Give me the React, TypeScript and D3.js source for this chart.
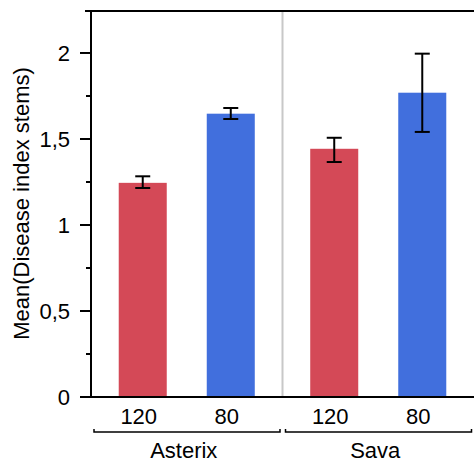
import React from "react";
import * as d3 from "d3";

const groups = ["Asterix", "Sava"];
const levels = ["120", "80"];
const means = [
  [1.245, 1.647],
  [1.443, 1.769],
];
const lowers = [
  [1.215, 1.616],
  [1.366, 1.541],
];
const uppers = [
  [1.283, 1.68],
  [1.507, 1.996],
];
const yTicks = [0, 0.5, 1, 1.5, 2];
const yMinorTicks = [0.25, 0.75, 1.25, 1.75];
const levelColors = ["#d44957", "#416fdd"];

const W = 474;
const H = 463;
const left = 91;
const right = 474;
const top = 11;
const bottom = 397;
const font = "Liberation Sans, Arial, sans-serif";
const fs = 22;

export default function App() {
  const y = d3.scaleLinear().domain([0, 2.244]).range([bottom, top]);
  const gx = d3.scaleBand<string>().domain(groups).range([left, right]);
  const ix = d3
    .scaleBand<string>()
    .domain(levels)
    .range([0, gx.bandwidth()])
    .paddingInner(0.4545)
    .paddingOuter(0.315);
  const fmt = (v: number) => String(v).replace(".", ",");

  return (
    <svg
      width={W}
      height={H}
      style={{ position: "absolute", left: 0, top: 0 }}
      fontFamily={font}
    >
      <rect width={W} height={H} fill="#fff" />
      {/* group divider */}
      <line
        x1={gx("Sava")!}
        x2={gx("Sava")!}
        y1={top}
        y2={bottom}
        stroke="#c8c8c8"
        strokeWidth={2}
      />
      {/* bars */}
      {groups.map((g, gi) =>
        levels.map((l, li) => {
          const x0 = gx(g)! + ix(l)!;
          return (
            <rect
              key={g + l}
              x={x0}
              width={ix.bandwidth()}
              y={y(means[gi][li])}
              height={y(0) - y(means[gi][li])}
              fill={levelColors[li]}
            />
          );
        })
      )}
      {/* error bars */}
      {groups.map((g, gi) =>
        levels.map((l, li) => {
          const cx = gx(g)! + ix(l)! + ix.bandwidth() / 2;
          const yl = y(lowers[gi][li]);
          const yu = y(uppers[gi][li]);
          return (
            <g key={"e" + g + l} stroke="#000" strokeWidth={2}>
              <line x1={cx} x2={cx} y1={yu} y2={yl} />
              <line x1={cx - 7.5} x2={cx + 7.5} y1={yu} y2={yu} />
              <line x1={cx - 7.5} x2={cx + 7.5} y1={yl} y2={yl} />
            </g>
          );
        })
      )}
      {/* frame */}
      <line x1={85} x2={right} y1={top} y2={top} stroke="#000" strokeWidth={2} />
      <line x1={left} x2={left} y1={top - 1} y2={bottom + 1} stroke="#000" strokeWidth={2} />
      <line x1={80} x2={right} y1={bottom} y2={bottom} stroke="#000" strokeWidth={2} />
      {/* y ticks */}
      {yTicks.map((t) => (
        <g key={"t" + t}>
          <line x1={80} x2={left} y1={y(t)} y2={y(t)} stroke="#000" strokeWidth={2} />
          <text
            x={70}
            y={y(t)}
            dy="0.35em"
            textAnchor="end"
            fontSize={fs}
            fill="#000"
          >
            {fmt(t)}
          </text>
        </g>
      ))}
      {yMinorTicks.map((t) => (
        <line key={"m" + t} x1={86} x2={left} y1={y(t)} y2={y(t)} stroke="#000" strokeWidth={2} />
      ))}
      <text
        transform="translate(29,203.5) rotate(-90)"
        textAnchor="middle"
        fontSize={fs}
        fill="#000"
      >
        Mean(Disease index stems)
      </text>
      {/* x labels and group brackets */}
      {groups.map((g) => {
        const gl = gx(g)!;
        const gr = gl + gx.bandwidth();
        const bl = gl + 3;
        const br = gr - 2.5;
        return (
          <g key={"x" + g}>
            {levels.map((l) => (
              <text
                key={g + l}
                x={gl + ix(l)! + ix.bandwidth() / 2 - 4}
                y={423.5}
                textAnchor="middle"
                fontSize={fs}
                fill="#000"
              >
                {l}
              </text>
            ))}
            <path
              d={`M${bl},429 V432 H${br} V429`}
              fill="none"
              stroke="#000"
              strokeWidth={1.5}
            />
            <text x={(gl + gr) / 2 - 3} y={458} textAnchor="middle" fontSize={fs} fill="#000">
              {g}
            </text>
          </g>
        );
      })}
    </svg>
  );
}
